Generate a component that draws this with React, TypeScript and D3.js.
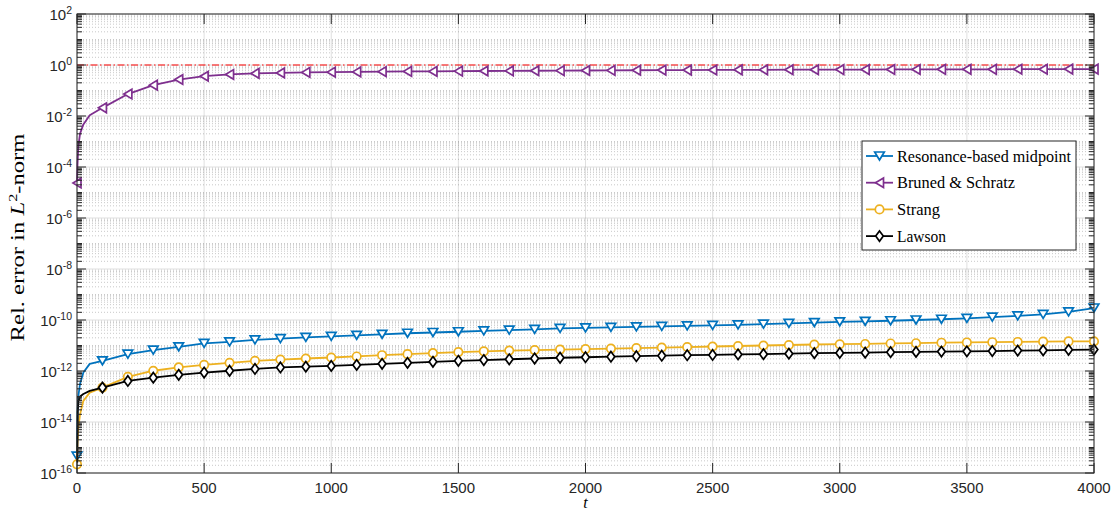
import React, { useEffect } from 'react';
import * as d3 from 'd3';

// log10 of the relative error
const tMarks = [0, 100, 200, 300, 400, 500, 600, 700, 800, 900, 1000, 1100, 1200, 1300, 1400, 1500, 1600, 1700, 1800, 1900, 2000,
  2100, 2200, 2300, 2400, 2500, 2600, 2700, 2800, 2900, 3000, 3100, 3200, 3300, 3400, 3500, 3600, 3700, 3800, 3900, 4000];

const midpointEarlyT = [0, 2, 5, 12, 25, 50];
const midpointEarly = [-15.34, -13.6, -13.0, -12.5, -12.06, -11.72];
const midpointLog = [-15.34, -11.6, -11.34, -11.18, -11.05, -10.92, -10.86, -10.78, -10.73, -10.68, -10.64, -10.6, -10.56, -10.52, -10.49,
  -10.46, -10.43, -10.4, -10.37, -10.33, -10.31, -10.29, -10.27, -10.25, -10.23, -10.21, -10.19, -10.16, -10.13, -10.1, -10.07,
  -10.05, -10.03, -10.0, -9.97, -9.94, -9.89, -9.84, -9.78, -9.68, -9.53];

const brunedEarlyT = [0, 2, 5, 12, 25, 50];
const brunedEarly = [-4.63, -3.9, -3.2, -2.69, -2.33, -1.97];
const brunedLog = [-4.63, -1.68, -1.14, -0.79, -0.57, -0.44, -0.37, -0.33, -0.31, -0.29, -0.28, -0.27, -0.26, -0.25, -0.25, -0.24,
  -0.235, -0.23, -0.225, -0.22, -0.215, -0.21, -0.205, -0.2, -0.2, -0.195, -0.19, -0.19, -0.185, -0.185, -0.18, -0.18, -0.175,
  -0.175, -0.17, -0.17, -0.17, -0.165, -0.165, -0.16, -0.16];

const strangEarlyT = [0, 2, 5, 12, 25, 50];
const strangEarly = [-15.66, -14.8, -14.22, -13.7, -13.17, -12.85];
const strangLog = [-15.66, -12.65, -12.23, -11.99, -11.86, -11.76, -11.68, -11.6, -11.55, -11.51, -11.47, -11.43, -11.38, -11.34,
  -11.3, -11.26, -11.23, -11.2, -11.18, -11.16, -11.14, -11.12, -11.1, -11.08, -11.06, -11.04, -11.02, -11.0, -10.98, -10.96,
  -10.95, -10.94, -10.92, -10.91, -10.89, -10.88, -10.87, -10.86, -10.85, -10.84, -10.84];

const lawsonEarlyT = [1, 3, 5, 12, 25, 50];
const lawsonEarly = [-15.6, -13.6, -13.2, -13.0, -12.9, -12.78];
const lawsonLog = [null, -12.65, -12.39, -12.26, -12.15, -12.06, -11.99, -11.92, -11.86, -11.83, -11.8, -11.76, -11.72, -11.68,
  -11.64, -11.6, -11.57, -11.54, -11.51, -11.48, -11.46, -11.44, -11.42, -11.4, -11.38, -11.37, -11.35, -11.34, -11.32, -11.3,
  -11.29, -11.28, -11.26, -11.25, -11.24, -11.23, -11.22, -11.2, -11.19, -11.17, -11.16];

const xTicks = [0, 500, 1000, 1500, 2000, 2500, 3000, 3500, 4000];
const yTickExp = [2, 0, -2, -4, -6, -8, -10, -12, -14, -16];

const series = [
  { name: 'Resonance-based midpoint', color: '#0072BD', marker: 'v', earlyT: midpointEarlyT, early: midpointEarly, vals: midpointLog },
  { name: 'Bruned & Schratz', color: '#7E2F8E', marker: '<', earlyT: brunedEarlyT, early: brunedEarly, vals: brunedLog },
  { name: 'Strang', color: '#EDB120', marker: 'o', earlyT: strangEarlyT, early: strangEarly, vals: strangLog },
  { name: 'Lawson', color: '#000000', marker: 'd', earlyT: lawsonEarlyT, early: lawsonEarly, vals: lawsonLog },
];

// legend text widths (LaTeX font is wider than Times)
const legendTextWidth: Record<string, number> = {
  'Resonance-based midpoint': 174,
  'Bruned & Schratz': 118,
  'Strang': 43,
  'Lawson': 49,
};

const W = 1113, H = 513;
const left = 77, right = 1094, top = 14, bottom = 473;

const x = d3.scaleLinear().domain([0, 4000]).range([left, right]);
const y = d3.scaleLog().domain([1e-16, 1e2]).range([bottom, top]);

const markerPath = (m: string, cx: number, cy: number) => {
  if (m === 'v') return `M${cx - 4.8},${cy - 4}L${cx + 4.8},${cy - 4}L${cx},${cy + 4}Z`;
  if (m === '<') return `M${cx - 4},${cy}L${cx + 4},${cy - 4.8}L${cx + 4},${cy + 4.8}Z`;
  if (m === 'd') return `M${cx},${cy - 5.2}L${cx + 3.8},${cy}L${cx},${cy + 5.2}L${cx - 3.8},${cy}Z`;
  return `M${cx - 4.2},${cy}a4.2,4.2 0 1,0 8.4,0a4.2,4.2 0 1,0 -8.4,0Z`;
};

const App = () => {
  useEffect(() => {
    document.body.style.margin = '0';
  }, []);

  const line = d3.line<[number, number]>().x((d) => x(d[0])).y((d) => y(d[1]));

  // minor log ticks
  const minorY: number[] = [];
  for (let e = -16; e < 2; e++) {
    for (let k = 1; k <= 9; k++) {
      if (k === 1 && e % 2 === 0) continue;
      minorY.push(k * Math.pow(10, e));
    }
  }

  const tickFont = 'Liberation Sans, Arial, sans-serif';
  const serif = 'Liberation Serif, Times New Roman, serif';

  return (
    <svg width={W} height={H} style={{ display: 'block', background: '#fff' }}>
      {/* minor grid */}
      <g stroke="#262626" strokeOpacity={0.25} strokeWidth={1} strokeDasharray="1,2">
        {minorY.map((v, i) => (
          <line key={i} x1={left} x2={right} y1={y(v)} y2={y(v)} />
        ))}
      </g>
      {/* major grid */}
      <g stroke="#262626" strokeOpacity={0.14} strokeWidth={1}>
        {yTickExp.map((e) => (
          <line key={e} x1={left} x2={right} y1={y(Math.pow(10, e))} y2={y(Math.pow(10, e))} />
        ))}
        {xTicks.map((t) => (
          <line key={t} x1={x(t)} x2={x(t)} y1={top} y2={bottom} />
        ))}
      </g>

      {/* reference line at 1 */}
      <line x1={left} x2={right} y1={y(1)} y2={y(1)} stroke="#FF0000" strokeWidth={1} strokeDasharray="7,2.5,1.5,2.5" />

      {series.map((s) => {
        const pts: [number, number][] = s.earlyT.map((t, i) => [t, Math.pow(10, s.early[i])]);
        tMarks.forEach((t, i) => {
          if (t >= 100 && s.vals[i] != null) pts.push([t, Math.pow(10, s.vals[i] as number)]);
        });
        return (
          <g key={s.name}>
            <path d={line(pts) || ''} fill="none" stroke={s.color} strokeWidth={1.8} strokeLinejoin="round" />
            {tMarks.map((t, i) =>
              s.vals[i] == null ? null : (
                <path key={t} d={markerPath(s.marker, x(t), y(Math.pow(10, s.vals[i] as number)))}
                  fill="#fff" stroke={s.color} strokeWidth={1.7} strokeLinejoin="miter" />
              )
            )}
          </g>
        );
      })}

      {/* axes box */}
      <rect x={left} y={top} width={right - left} height={bottom - top} fill="none" stroke="#262626" strokeWidth={1} />

      {/* ticks */}
      <g stroke="#262626" strokeWidth={1}>
        {xTicks.map((t) => (
          <g key={t}>
            <line x1={x(t)} x2={x(t)} y1={bottom} y2={bottom - 10} />
            <line x1={x(t)} x2={x(t)} y1={top} y2={top + 10} />
          </g>
        ))}
        {yTickExp.map((e) => (
          <g key={e}>
            <line x1={left} x2={left + 9} y1={y(Math.pow(10, e))} y2={y(Math.pow(10, e))} />
            <line x1={right} x2={right - 9} y1={y(Math.pow(10, e))} y2={y(Math.pow(10, e))} />
          </g>
        ))}
        {minorY.map((v, i) => (
          <g key={i}>
            <line x1={left} x2={left + 5} y1={y(v)} y2={y(v)} />
            <line x1={right} x2={right - 5} y1={y(v)} y2={y(v)} />
          </g>
        ))}
      </g>

      {/* tick labels */}
      <g fill="#262626" fontFamily={tickFont} fontSize={15}>
        {xTicks.map((t) => (
          <text key={t} x={x(t)} y={bottom + 20} textAnchor="middle">{t}</text>
        ))}
        {yTickExp.map((e) => (
          <text key={e} x={72} y={y(Math.pow(10, e)) + 6} textAnchor="end">
            <tspan>10</tspan>
            <tspan dy={-6.5} fontSize={10.5}>{e}</tspan>
          </text>
        ))}
      </g>

      {/* axis labels */}
      <text x={(left + right) / 2} y={508} textAnchor="middle" fontFamily={serif} fontStyle="italic" fontSize={16} fill="#000">t</text>
      <text transform={`translate(24,${(top + bottom) / 2 - 6}) rotate(-90)`} textAnchor="middle" fontFamily={serif} fontSize={19}
        fill="#000" textLength={208} lengthAdjust="spacingAndGlyphs">
        <tspan>Rel.  error in </tspan>
        <tspan fontStyle="italic">L</tspan>
        <tspan dy={-7} fontSize={12.5}>2</tspan>
        <tspan dy={7}>-norm</tspan>
      </text>

      {/* legend */}
      <g>
        <rect x={862} y={141} width={214} height={109} fill="#fff" stroke="#262626" strokeWidth={1} />
        {series.map((s, i) => {
          const ly = 156 + i * 26.7;
          return (
            <g key={s.name}>
              <line x1={866} x2={893} y1={ly} y2={ly} stroke={s.color} strokeWidth={1.8} />
              <path d={markerPath(s.marker, 879.5, ly)} fill="#fff" stroke={s.color} strokeWidth={1.7} />
              <text x={897} y={ly + 5.5} fontFamily={serif} fontSize={16.5} fill="#000"
                textLength={legendTextWidth[s.name]} lengthAdjust="spacingAndGlyphs">{s.name}</text>
            </g>
          );
        })}
      </g>
    </svg>
  );
};

export default App;
